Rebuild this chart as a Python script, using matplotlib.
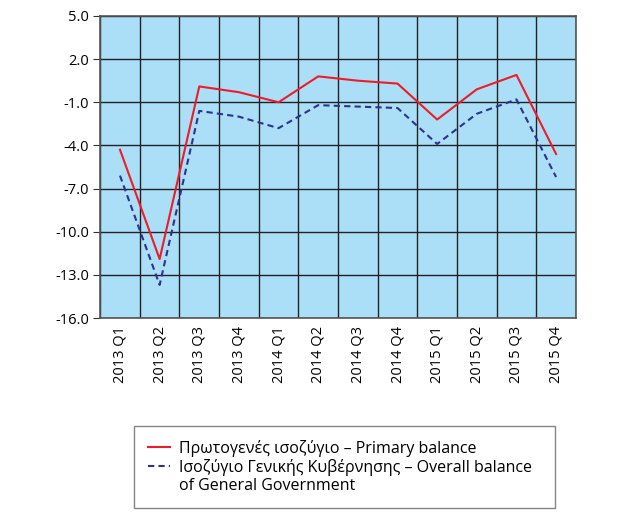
from matplotlib import pyplot as plt
import numpy as np

quarters = ["2013 Q1", "2013 Q2", "2013 Q3", "2013 Q4",
            "2014 Q1", "2014 Q2", "2014 Q3", "2014 Q4",
            "2015 Q1", "2015 Q2", "2015 Q3", "2015 Q4"]
primary = [-4.3, -11.9, 0.1, -0.3, -1.0, 0.8, 0.5, 0.3, -2.2, -0.1, 0.9, -4.6]
overall = [-6.1, -13.7, -1.6, -2.0, -2.8, -1.2, -1.3, -1.4, -3.9, -1.8, -0.8, -6.2]
yticks = [5.0, 2.0, -1.0, -4.0, -7.0, -10.0, -13.0, -16.0]

plt.rcParams['font.family'] = ['Open Sans', 'DejaVu Sans']

fig = plt.figure(figsize=(6.26, 5.15), dpi=100)
ax = fig.add_axes([0.16, 0.3825, 0.76, 0.5865])
ax.set_facecolor('#abdff8')

x = np.arange(len(quarters))
ax.plot(x, primary, color='#ee1c25', lw=1.5, label='Πρωτογενές ισοζύγιο – Primary balance')
ax.plot(x, overall, color='#2e3192', lw=1.5, ls=(0, (3, 2)),
        label='Ισοζύγιο Γενικής Κυβέρνησης – Overall balance')
# second line of the legend text, no handle
ax.plot([], [], color='none', label='of General Government')

ax.set_xlim(-0.5, len(quarters) - 0.5)
ax.set_ylim(-16, 5)
ax.set_yticks(yticks)
ax.set_yticklabels(["%.1f" % v for v in yticks], fontsize=10.5)
ax.set_xticks(x)
ax.set_xticklabels(quarters, rotation=90, fontsize=10.5)
ax.set_xticks(np.arange(len(quarters) + 1) - 0.5, minor=True)
ax.tick_params(axis='x', which='both', length=0, pad=6)
ax.tick_params(axis='y', length=5, color='#333333', pad=3)
ax.grid(axis='y', which='major', color='#222222', lw=1)
ax.grid(axis='x', which='minor', color='#222222', lw=1)
ax.set_axisbelow(True)
for s in ax.spines.values():
    s.set_color('#555555')
    s.set_linewidth(1.2)

leg = fig.legend(loc='upper left', mode='expand',
                 bbox_to_anchor=(134 / 626, 1 - 508 / 515, 421 / 626, 82 / 515),
                 borderaxespad=0, fontsize=11.5, frameon=True, fancybox=False,
                 handlelength=1.4, borderpad=0.85, labelspacing=0.15,
                 handletextpad=0.55)
leg.get_frame().set_edgecolor('#666666')
leg.get_frame().set_linewidth(1)

plt.savefig('out.png')
